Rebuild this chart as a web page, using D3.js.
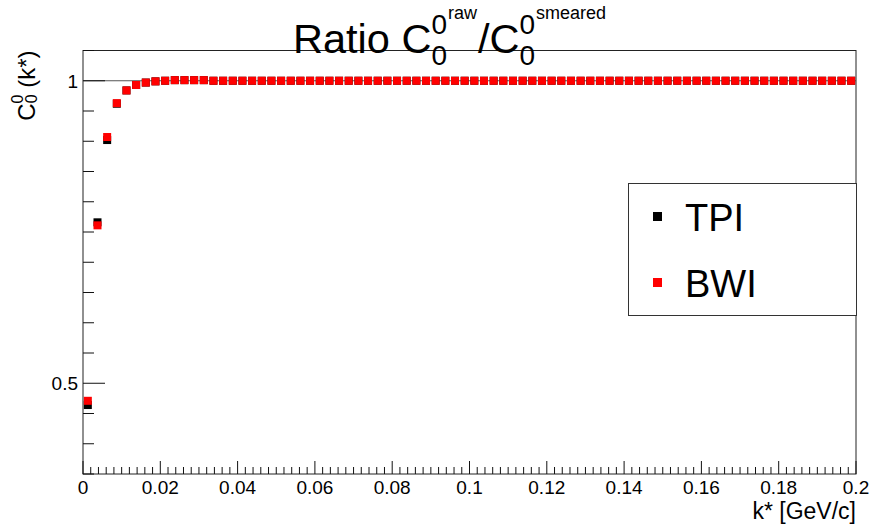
<!DOCTYPE html>
<html lang="en">
<head>
    <meta charset="UTF-8">
    <script src="https://cdn.jsdelivr.net/npm/d3@7"></script>
    <style>
        body { margin: 0; background: #fff; }
        svg { font-family: "Liberation Sans", Arial, Helvetica, sans-serif; }
    </style>
</head>
<body>
<div id="fig"></div>
<script>
    const width = 872, height = 525;

    // bin centres of the k* histogram (bin width 0.0025 GeV/c)
    const kStar = [
        0.00125, 0.00375, 0.00625, 0.00875, 0.01125, 0.01375, 0.01625, 0.01875, 0.02125, 0.02375,
        0.02625, 0.02875, 0.03125, 0.03375, 0.03625, 0.03875, 0.04125, 0.04375, 0.04625, 0.04875,
        0.05125, 0.05375, 0.05625, 0.05875, 0.06125, 0.06375, 0.06625, 0.06875, 0.07125, 0.07375,
        0.07625, 0.07875, 0.08125, 0.08375, 0.08625, 0.08875, 0.09125, 0.09375, 0.09625, 0.09875,
        0.10125, 0.10375, 0.10625, 0.10875, 0.11125, 0.11375, 0.11625, 0.11875, 0.12125, 0.12375,
        0.12625, 0.12875, 0.13125, 0.13375, 0.13625, 0.13875, 0.14125, 0.14375, 0.14625, 0.14875,
        0.15125, 0.15375, 0.15625, 0.15875, 0.16125, 0.16375, 0.16625, 0.16875, 0.17125, 0.17375,
        0.17625, 0.17875, 0.18125, 0.18375, 0.18625, 0.18875, 0.19125, 0.19375, 0.19625, 0.19875
    ];
    const tpi = [
        0.464, 0.766, 0.902, 0.962, 0.984, 0.993, 0.997, 0.999, 1.000, 1.001,
        1.001, 1.001, 1.001, 1.000, 1.000, 1.000, 1.000, 1.000, 1.000, 1.000,
        1.000, 1.000, 1.000, 1.000, 1.000, 1.000, 1.000, 1.000, 1.000, 1.000,
        1.000, 1.000, 1.000, 1.000, 1.000, 1.000, 1.000, 1.000, 1.000, 1.000,
        1.000, 1.000, 1.000, 1.000, 1.000, 1.000, 1.000, 1.000, 1.000, 1.000,
        1.000, 1.000, 1.000, 1.000, 1.000, 1.000, 1.000, 1.000, 1.000, 1.000,
        1.000, 1.000, 1.000, 1.000, 1.000, 1.000, 1.000, 1.000, 1.000, 1.000,
        1.000, 1.000, 1.000, 1.000, 1.000, 1.000, 1.000, 1.000, 1.000, 1.000
    ];
    const bwi = [
        0.471, 0.761, 0.907, 0.963, 0.984, 0.993, 0.997, 0.999, 1.000, 1.001,
        1.001, 1.001, 1.001, 1.000, 1.000, 1.000, 1.000, 1.000, 1.000, 1.000,
        1.000, 1.000, 1.000, 1.000, 1.000, 1.000, 1.000, 1.000, 1.000, 1.000,
        1.000, 1.000, 1.000, 1.000, 1.000, 1.000, 1.000, 1.000, 1.000, 1.000,
        1.000, 1.000, 1.000, 1.000, 1.000, 1.000, 1.000, 1.000, 1.000, 1.000,
        1.000, 1.000, 1.000, 1.000, 1.000, 1.000, 1.000, 1.000, 1.000, 1.000,
        1.000, 1.000, 1.000, 1.000, 1.000, 1.000, 1.000, 1.000, 1.000, 1.000,
        1.000, 1.000, 1.000, 1.000, 1.000, 1.000, 1.000, 1.000, 1.000, 1.000
    ];
    const seriesNames = ["TPI", "BWI"];
    const seriesColors = ["#000000", "#ff0000"];
    const xMajorTicks = [0, 0.02, 0.04, 0.06, 0.08, 0.1, 0.12, 0.14, 0.16, 0.18, 0.2];
    const yMajorTicks = [0.5, 1];

    const margins = {top: 50.5, bottom: 51, left: 83, right: 16};

    const svg = d3.select("#fig")
        .append("svg")
        .attr("width", width)
        .attr("height", height);

    const x = d3.scaleLinear().domain([0, 0.2]).range([margins.left, width - margins.right]);
    const y = d3.scaleLinear().domain([0.35, 1.05]).range([height - margins.bottom, margins.top]);

    // frame
    svg.append("rect")
        .attr("x", x(0)).attr("y", y(1.05))
        .attr("width", x(0.2) - x(0)).attr("height", y(0.35) - y(1.05))
        .attr("fill", "none").attr("stroke", "#222").attr("stroke-width", 1);

    // reference line at 1
    svg.append("line")
        .attr("x1", x(0)).attr("x2", x(0.2))
        .attr("y1", y(1)).attr("y2", y(1))
        .attr("stroke", "#555").attr("stroke-width", 1);

    // x axis (ticks pointing up)
    const xMinor = d3.range(0, 101).map(i => i * 0.002);
    svg.append("g").selectAll("line")
        .data(xMinor)
        .enter().append("line")
        .attr("x1", d => x(d)).attr("x2", d => x(d))
        .attr("y1", y(0.35))
        .attr("y2", (d, i) => y(0.35) - (i % 10 === 0 ? 13 : 7))
        .attr("stroke", "#111").attr("stroke-width", 1);
    svg.append("g").selectAll("text")
        .data(xMajorTicks)
        .enter().append("text")
        .attr("x", d => x(d)).attr("y", 494)
        .attr("text-anchor", "middle")
        .attr("font-size", 19)
        .text(d => d3.format("~g")(d));
    svg.append("text")
        .attr("x", x(0.2)).attr("y", 519)
        .attr("text-anchor", "end")
        .attr("font-size", 23)
        .text("k* [GeV/c]");

    // y axis (ticks pointing right)
    const yMinor = d3.range(0, 15).map(i => 0.35 + i * 0.05);
    svg.append("g").selectAll("line")
        .data(yMinor)
        .enter().append("line")
        .attr("y1", d => y(d)).attr("y2", d => y(d))
        .attr("x1", x(0))
        .attr("x2", d => x(0) + (yMajorTicks.some(t => Math.abs(t - d) < 1e-6) ? 22 : 11))
        .attr("stroke", "#111").attr("stroke-width", 1);
    svg.append("g").selectAll("text")
        .data(yMajorTicks)
        .enter().append("text")
        .attr("x", x(0) - 5).attr("y", d => y(d) + 7)
        .attr("text-anchor", "end")
        .attr("font-size", 19)
        .text(d => d3.format("~g")(d));

    const yTitle = svg.append("text")
        .attr("transform", `translate(35,${y(1.05)}) rotate(-90)`)
        .attr("text-anchor", "end")
        .attr("font-size", 24);
    yTitle.append("tspan").text("C");
    yTitle.append("tspan").attr("font-size", 16).attr("dy", 2).text("0");
    yTitle.append("tspan").attr("font-size", 16).attr("dx", -9).attr("dy", -14).text("0");
    yTitle.append("tspan").attr("dy", 12).text(" (k*)");

    // data markers
    [tpi, bwi].forEach((vals, s) => {
        svg.append("g").selectAll("rect")
            .data(vals)
            .enter().append("rect")
            .attr("x", (d, i) => x(kStar[i]) - 4)
            .attr("y", d => y(d) - 4)
            .attr("width", 8).attr("height", 8)
            .attr("fill", seriesColors[s]);
    });

    // legend
    const legend = svg.append("g");
    legend.append("rect")
        .attr("x", 628.5).attr("y", 183.5)
        .attr("width", 228).attr("height", 132)
        .attr("fill", "#fff").attr("stroke", "#333").attr("stroke-width", 1);
    seriesNames.forEach((name, i) => {
        legend.append("rect")
            .attr("x", 653).attr("y", 212 + i * 66)
            .attr("width", 9).attr("height", 9)
            .attr("fill", seriesColors[i]);
        legend.append("text")
            .attr("x", 685).attr("y", 231 + i * 66)
            .attr("font-size", 38)
            .text(name);
    });

    // title: Ratio C_0^0^raw / C_0^0^smeared
    const title = svg.append("g");
    let cx = 293;
    function piece(txt, size, base) {
        const t = title.append("text").attr("x", cx).attr("y", base).attr("font-size", size).text(txt);
        return t.node().getComputedTextLength();
    }
    function stacked(size, supBase, subBase) {
        const w1 = piece("0", size, supBase);
        const w2 = piece("0", size, subBase);
        cx += Math.max(w1, w2) + 1;
    }
    cx += piece("Ratio C", 41.5, 53);
    stacked(28, 34, 65);
    cx += piece("raw", 18, 19) + 1;
    cx += piece("/C", 41.5, 53);
    stacked(28, 34, 65);
    piece("smeared", 18, 19);
</script>
</body>
</html>
